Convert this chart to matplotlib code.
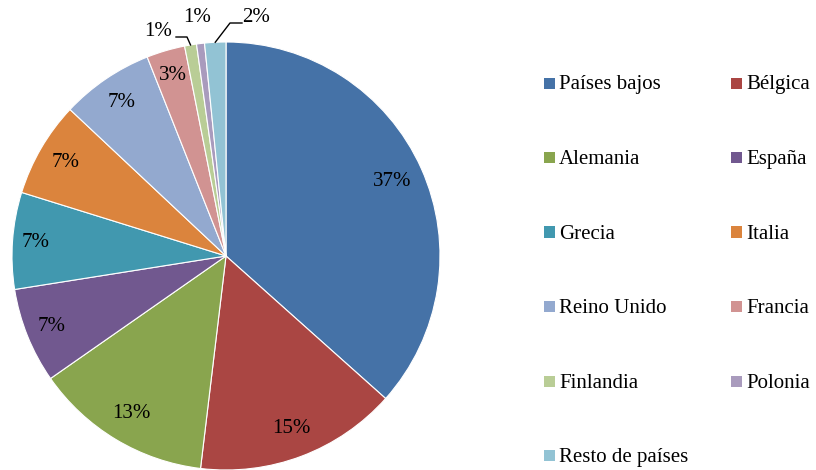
import matplotlib
matplotlib.use("Agg")
import matplotlib.pyplot as plt
from matplotlib.patches import Rectangle
import numpy as np

categories = ["Países bajos", "Bélgica", "Alemania", "España", "Grecia", "Italia",
              "Reino Unido", "Francia", "Finlandia", "Polonia", "Resto de países"]
values = [36.6, 15.3, 13.4, 7.2, 7.3, 7.2, 7.0, 2.9, 0.9, 0.6, 1.6]
colors = ["#4572A7", "#AA4643", "#89A54E", "#71588F", "#4198AF", "#DB843D",
          "#93A9CF", "#D19392", "#B9CD96", "#A99BBD", "#92C3D4"]

plt.rcParams['font.family'] = ['Liberation Serif', 'DejaVu Serif']
FS = 15

fig = plt.figure(figsize=(8.16, 4.70), dpi=100)
W, H = 816, 470
cx, cy, R = 226, 256, 214
ax = fig.add_axes([(cx - R) / W, (H - cy - R) / H, 2 * R / W, 2 * R / H])
wedges, _ = ax.pie(values, colors=colors, startangle=90, counterclock=False,
                   radius=1.0, wedgeprops=dict(edgecolor="white", linewidth=0.8))
ax.set_xlim(-1, 1)
ax.set_ylim(-1, 1)
ax.set_aspect("equal")
ax.axis("off")

total = sum(values)
labels = ["%d%%" % round(v / total * 100) for v in values]
mids = []
for w in wedges:
    mids.append(np.deg2rad((w.theta1 + w.theta2) / 2))

# main labels inside
rads = [0.85, 0.86, 0.86, 0.88, 0.89, 0.87, 0.87, 0.88]
for i in range(8):
    a = mids[i]
    ax.text(rads[i] * np.cos(a), rads[i] * np.sin(a), labels[i],
            ha="center", va="center", fontsize=FS, color="black")

def px(x, y):
    return ((x - cx) / R, (cy - y) / R)

# Finlandia
a = mids[8]
lx, ly = px(158, 32)
ax.text(lx, ly, labels[8], ha="center", va="center", fontsize=FS, clip_on=False)
p1 = px(176, 37); p2 = px(187, 37)
ax.plot([p1[0], p2[0], np.cos(a)], [p1[1], p2[1], np.sin(a)], color="black", lw=1, clip_on=False)
# Polonia
lx, ly = px(197, 17)
ax.text(lx, ly, labels[9], ha="center", va="center", fontsize=FS, clip_on=False)
# Resto
a = mids[10]
lx, ly = px(256, 17)
ax.text(lx, ly, labels[10], ha="center", va="center", fontsize=FS, clip_on=False)
p1 = px(230, 23); p2 = px(242, 23)
ax.plot([np.cos(a), p1[0], p2[0]], [np.sin(a), p1[1], p2[1]], color="black", lw=1, clip_on=False)

# legend (row-wise, two columns)
col_x = [544, 731]
row_y0, row_dy = 83, 74.5
sq = 11
for i, (name, c) in enumerate(zip(categories, colors)):
    r, k = divmod(i, 2)
    x0 = col_x[k]
    y0 = row_y0 + r * row_dy
    fig.add_artist(Rectangle(((x0) / W, (H - y0 - sq / 2) / H), sq / W, sq / H,
                             transform=fig.transFigure, facecolor=c, edgecolor="none"))
    fig.text((x0 + sq + 4) / W, (H - y0 - 2) / H, name, ha="left", va="center",
             fontsize=FS, color="black")

fig.savefig("out.png", dpi=100)
